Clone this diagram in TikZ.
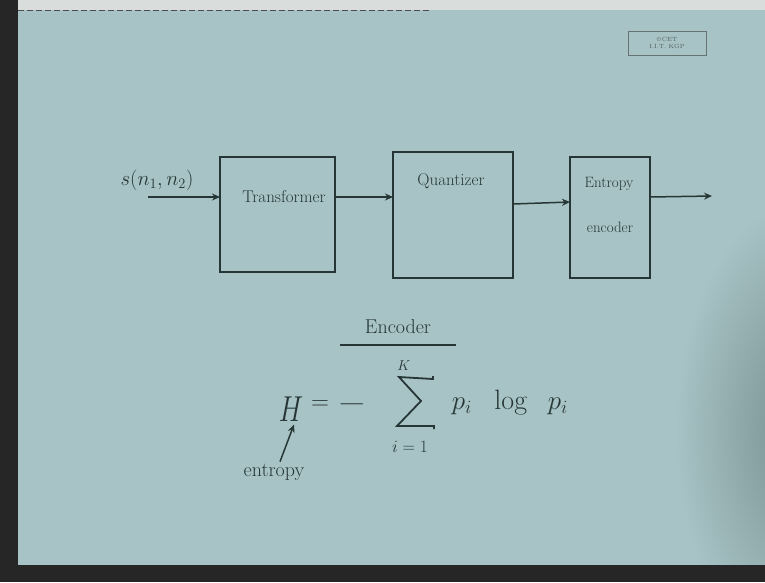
\documentclass[tikz,border=0pt]{standalone}
\usepackage{graphicx}
\usetikzlibrary{arrows.meta}
\definecolor{paper}{HTML}{A8C3C5}
\definecolor{paperdark}{HTML}{758E90}
\definecolor{ink}{HTML}{263636}
\definecolor{topstrip}{HTML}{D9DDDC}
\begin{document}
\begin{tikzpicture}[x=1pt,y=-1pt,
  blk/.style={draw=ink,line width=1.5pt,inner sep=0pt,outer sep=0pt},
  lbl/.style={text=ink,inner sep=1pt,font=\fontsize{17}{18}\selectfont},
  mth/.style={text=ink,inner sep=0pt},
  arr/.style={draw=ink,line width=1.5pt,-{Stealth[length=8pt,width=7pt]}}]
% background / frame
\fill[paper] (0,0) rectangle (765,582);
\begin{scope}
  \clip (0,10) rectangle (765,565);
  \shade[inner color=paperdark,outer color=paper] (805,430) ellipse[x radius=130pt,y radius=230pt];
\end{scope}
\fill[topstrip] (0,0) rectangle (765,10);
\draw[black!70,line width=1pt,dash pattern=on 6pt off 3pt] (18,10) -- (430,10);
\fill[black!85] (0,0) rectangle (18,582);
\fill[black!85] (0,565) rectangle (765,582);
\useasboundingbox (0,0) rectangle (765,582);
% logo
\node[draw=ink!70,line width=0.6pt,minimum width=78pt,minimum height=24pt,inner sep=0pt] (logo) at (667,43) {};
\node[text=ink!80,font=\fontsize{6}{7}\selectfont,align=center,inner sep=0pt] (logotxt) at (logo) {\copyright\,CET\\I.I.T. KGP};
% blocks
\node[blk,minimum width=115pt,minimum height=115pt] (T) at (277.5,214.5) {};
\node[blk,minimum width=120pt,minimum height=126pt] (Q) at (453,215) {};
\node[blk,minimum width=80pt,minimum height=121pt] (E) at (610,217.5) {};
\node[lbl] (Tl) at (284,197) {Transformer};
\node[lbl] (Ql) at (451,181) {Quantizer};
\node[lbl,font=\fontsize{15}{16}\selectfont] (El1) at (609,184) {Entropy};
\node[lbl,font=\fontsize{15}{16}\selectfont] (El2) at (610,227) {encoder};
% signal
\node[mth,font=\fontsize{22}{24}\selectfont] (s) at (157,180) {$s(n_1,n_2)$};
\coordinate (in) at (148,197);
\coordinate (out) at (712,196);
\draw[arr] (in) -- (T.west |- in);
\draw[arr] (T.east |- 0,197) -- (Q.west |- 0,197);
\draw[arr] (Q.east |- 0,204) -- (E.west |- 0,202);
\draw[arr] (E.east |- 0,197) -- (out);
% Encoder title
\node[lbl,font=\fontsize{20}{22}\selectfont] (enc) at (398,327) {Encoder};
\coordinate (ul1) at (340,345);
\coordinate (ul2) at (456,345);
\draw[ink,line width=1.6pt] (ul1) -- (ul2);
% entropy formula
\node[mth,font=\fontsize{30}{30}\selectfont] (H) at (291,409) {\scalebox{1.1}[1.45]{$H$}};
\node[mth,font=\fontsize{26}{26}\selectfont] (eq) at (320,405) {$=$};
\node[mth,font=\fontsize{26}{26}\selectfont] (minus) at (352,404) {\scalebox{1.5}[1]{$-$}};
% summation sign (drawn)
\coordinate (sumA) at (433,379);
\coordinate (sumB) at (399,377);
\coordinate (sumC) at (421,401);
\coordinate (sumD) at (397,426);
\coordinate (sumE) at (434,426);
\draw[ink,line width=1.8pt,line join=miter] ([yshift=3pt]sumA) -- (sumA) -- (sumB) -- (sumC) -- (sumD) -- (sumE) -- ([yshift=-3pt]sumE);
\node[mth,font=\fontsize{14}{14}\selectfont] (K) at (404,366) {$K$};
\node[mth,font=\fontsize{17}{17}\selectfont] (low) at (410,447) {$i=1$};
\node[mth,font=\fontsize{22}{22}\selectfont] (p1) at (462,406) {\scalebox{1.3}{$p_i$}};
\node[mth,font=\fontsize{20}{20}\selectfont] (log) at (511,402) {\scalebox{1.35}{$\log$}};
\node[mth,font=\fontsize{22}{22}\selectfont] (p2) at (558,406) {\scalebox{1.3}{$p_i$}};
\node[lbl,font=\fontsize{20}{22}\selectfont] (ent) at (274,472) {entropy};
\draw[arr] ([xshift=6pt,yshift=1pt]ent.north) -- ([xshift=3pt,yshift=-3pt]H.south);
\end{tikzpicture}
\end{document}
